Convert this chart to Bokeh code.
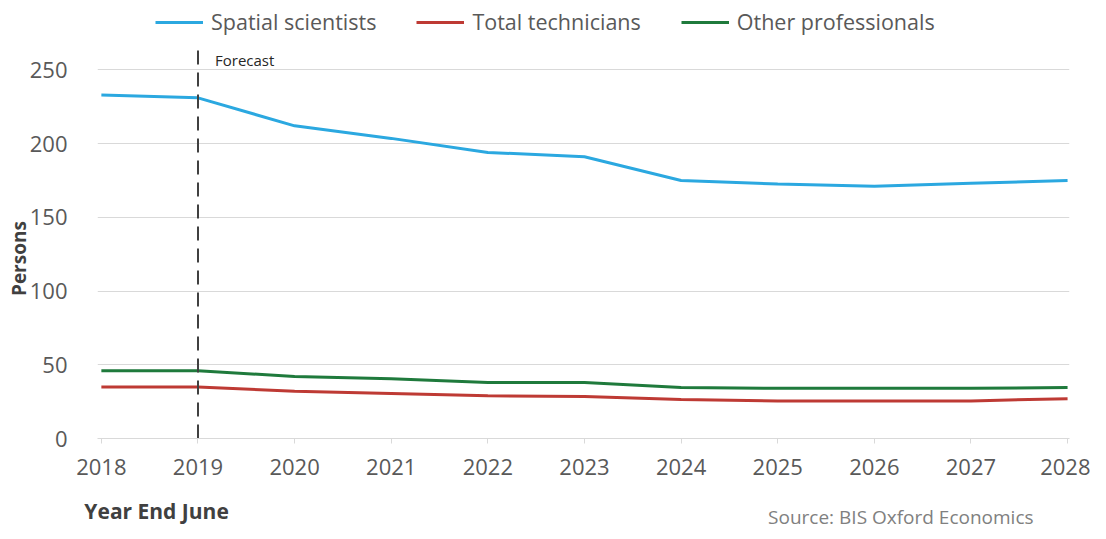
from bokeh.plotting import figure
from bokeh.models import Legend, LegendItem, Label, Range1d, FixedTicker
from bokeh.embed import file_html
from bokeh.resources import INLINE

years = [2018, 2019, 2020, 2021, 2022, 2023, 2024, 2025, 2026, 2027, 2028]
spatial_scientists = [233, 231, 212, 203.5, 194, 191, 175, 172.5, 171, 173, 175]
total_technicians = [35, 35, 32, 30.5, 29, 28.5, 26.5, 25.5, 25.5, 25.5, 27]
other_professionals = [46, 46, 42, 40.5, 38, 38, 34.5, 34, 34, 34, 34.5]
y_ticks = [0, 50, 100, 150, 200, 250]
forecast_year = 2019

FONT = "Open Sans"
GREY = "#595959"

p = figure(width=1090, height=531, output_backend="svg", toolbar_location=None,
           x_range=Range1d(2017.96, 2028.02), y_range=Range1d(0, 297),
           min_border_left=91, min_border_right=21, min_border_top=0, min_border_bottom=90)
p.outline_line_color = None
p.background_fill_color = "white"

r1 = p.line(years, spatial_scientists, line_color="#2BA8E0", line_width=3)
r2 = p.line(years, total_technicians, line_color="#BE3A34", line_width=3)
r3 = p.line(years, other_professionals, line_color="#1F7A3C", line_width=3)

# forecast marker
p.segment(x0=[forecast_year], y0=[0], x1=[forecast_year], y1=[268],
          line_color="#404040", line_width=2, line_dash="14 8")
p.add_layout(Label(x=forecast_year, y=256.5, x_offset=17, text="Forecast",
                   text_font=FONT, text_font_size="15px", text_color="#262626",
                   text_baseline="middle"))

# axes
p.xgrid.grid_line_color = None
p.ygrid.grid_line_color = "#d9d9d9"
p.ygrid.grid_line_width = 1
p.yaxis.ticker = FixedTicker(ticks=y_ticks)
p.xaxis.ticker = FixedTicker(ticks=years)
p.yaxis.axis_line_color = None
p.yaxis.major_tick_line_color = None
p.yaxis.minor_tick_line_color = None
p.yaxis.major_label_standoff = 24
p.yaxis.major_label_text_font = FONT
p.yaxis.major_label_text_font_size = "22px"
p.yaxis.major_label_text_color = GREY

p.xaxis.axis_line_color = "#d9d9d9"
p.xaxis.major_tick_line_color = "#d9d9d9"
p.xaxis.major_tick_out = 5
p.xaxis.major_tick_in = 0
p.xaxis.minor_tick_line_color = None
p.xaxis.major_label_standoff = 15
p.xaxis.major_label_text_font = FONT
p.xaxis.major_label_text_font_size = "22px"
p.xaxis.major_label_text_color = GREY

p.add_layout(Label(x=2018, y=122, x_offset=-82, text="Persons", angle=90, angle_units="deg",
                   text_font=FONT, text_font_size="19px", text_font_style="bold",
                   text_color="#404040", text_baseline="middle", text_align="center"), "left")
p.add_layout(Label(x=2018, y=-49, x_offset=-17, text="Year End June",
                   text_font=FONT, text_font_size="21px", text_font_style="bold",
                   text_color="#404040", text_baseline="middle", text_align="left"), "below")
p.add_layout(Label(x=2028, y=-53, x_offset=-34, text="Source: BIS Oxford Economics",
                   text_font=FONT, text_font_size="19px",
                   text_color="#808080", text_baseline="middle", text_align="right"), "below")

legend = Legend(items=[LegendItem(label="Spatial scientists", renderers=[r1]),
                       LegendItem(label="Total technicians", renderers=[r2]),
                       LegendItem(label="Other professionals", renderers=[r3])],
                orientation="horizontal", location=(58, 402),
                label_text_font=FONT, label_text_font_size="21.5px", label_text_color=GREY,
                glyph_width=48, glyph_height=20, spacing=40, padding=0, margin=0,
                label_standoff=8, border_line_color=None, background_fill_alpha=0)
p.add_layout(legend, "center")

open("out.html", "w").write(file_html(p, INLINE))
